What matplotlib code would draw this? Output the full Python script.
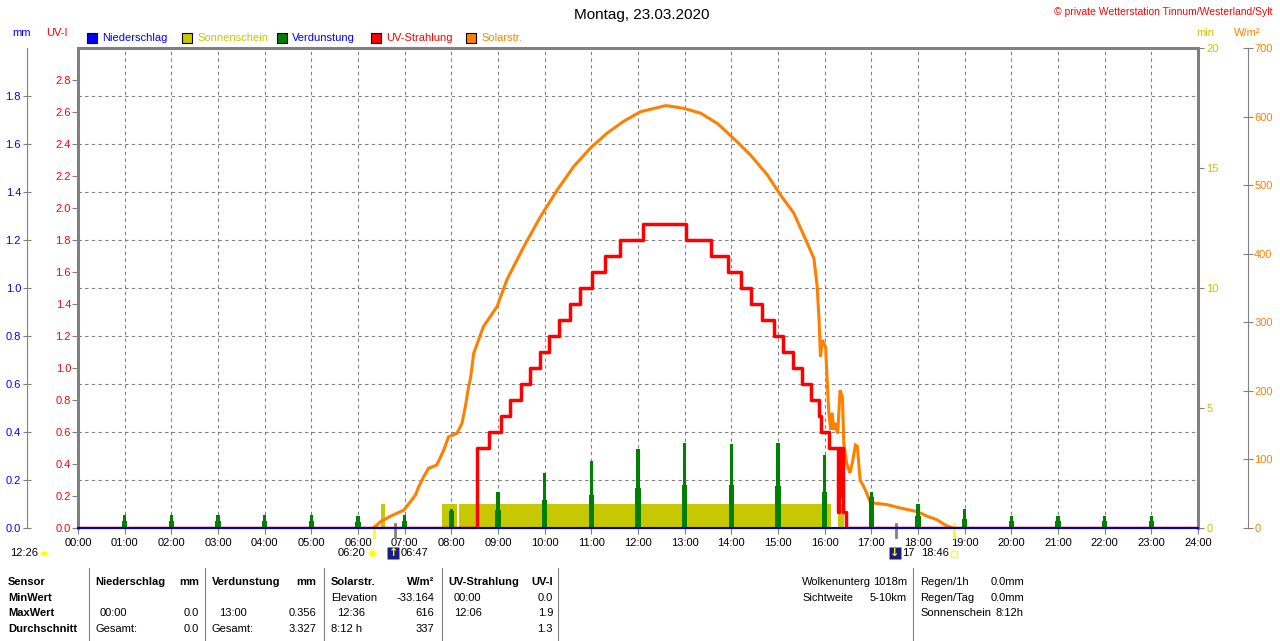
import numpy as np
import matplotlib.pyplot as plt
from matplotlib.patches import Rectangle
from matplotlib.lines import Line2D

plt.rcParams['font.family'] = ['Liberation Sans', 'DejaVu Sans']
plt.rcParams['font.size'] = 8

# Solarstrahlung (W/m²) - Zeit in Stunden
solar_t = [6.33, 6.37, 6.48, 6.69, 6.98, 7.12, 7.23, 7.30, 7.41, 7.51,
           7.69, 7.84, 7.94, 8.12, 8.23, 8.30, 8.37, 8.41, 8.48, 8.69,
           8.98, 9.19, 9.55, 9.91, 10.27, 10.62, 10.98, 11.34, 11.69, 12.05,
           12.41, 12.60, 12.70, 12.98, 13.34, 13.70, 14.05, 14.41, 14.77, 15.05,
           15.34, 15.63, 15.77, 15.84, 15.88, 15.91, 15.95, 16.02, 16.05, 16.09,
           16.13, 16.16, 16.20, 16.23, 16.28, 16.33, 16.38, 16.41, 16.47, 16.54,
           16.59, 16.66, 16.70, 16.76, 16.84, 16.90, 16.98, 17.34, 17.63, 17.98,
           18.20, 18.41, 18.59, 18.66, 18.74]
solar_v = [0, 2, 9, 17, 26, 38, 48, 60, 75, 87,
           92, 114, 133, 138, 153, 177, 206, 218, 255, 294,
           323, 362, 410, 454, 493, 527, 554, 576, 593, 607,
           613, 616, 615, 612, 605, 590, 568, 544, 515, 486,
           459, 415, 393, 352, 303, 250, 274, 264, 221, 167,
           143, 168, 143, 153, 138, 201, 191, 123, 95, 80,
           94, 121, 119, 70, 60, 51, 37, 34, 29, 24,
           17, 12, 4, 2, 0]

# UV-Index (Stufen)
uv_t = [0, 8.55, 8.81, 9.06, 9.26, 9.49, 9.69, 9.89, 10.10, 10.31,
        10.54, 10.75, 11.02, 11.30, 11.62, 12.10, 13.03, 13.57, 13.92, 14.20,
        14.43, 14.65, 14.91, 15.11, 15.33, 15.52, 15.70, 15.88, 15.93, 16.09,
        16.28, 16.31, 16.34, 16.37, 16.40, 16.46, 24]
uv_v = [0, 0.5, 0.6, 0.7, 0.8, 0.9, 1.0, 1.1, 1.2, 1.3,
        1.4, 1.5, 1.6, 1.7, 1.8, 1.9, 1.8, 1.7, 1.6, 1.5,
        1.4, 1.3, 1.2, 1.1, 1.0, 0.9, 0.8, 0.7, 0.6, 0.5,
        0.1, 0.5, 0.2, 0.5, 0.1, 0.0, 0.0]

# Verdunstung (mm) pro Stunde
evap_h = list(range(1, 24))
evap_hi = [0.054, 0.054, 0.054, 0.054, 0.054, 0.05, 0.054, 0.078, 0.151, 0.23,
           0.28, 0.329, 0.356, 0.352, 0.355, 0.304, 0.151, 0.10, 0.078, 0.05,
           0.05, 0.05, 0.05]
evap_lo = [0.03, 0.03, 0.03, 0.03, 0.03, 0.026, 0.03, 0.07, 0.075, 0.117,
           0.138, 0.165, 0.18, 0.178, 0.175, 0.15, 0.13, 0.05, 0.037, 0.03,
           0.03, 0.03, 0.03]

# Sonnenschein (min)
sun_start = [6.50, 7.80, 8.16, 16.28]
sun_end = [6.57, 8.12, 16.13, 16.41]
sun_min = [1.0, 1.0, 1.0, 1.0]

# Niederschlag (mm)
rain_t = [0, 24]
rain_v = [0.0, 0.0]

# Sonne / Mond
sunrise, sunset = 6 + 20 / 60, 18 + 46 / 60
moonrise, moonset = 6 + 47 / 60, 17.53

# Farben
GRAY = '#808080'
BLUE = '#0000FF'
RED = '#FF0000'
GREEN = '#008000'
OLIVE = '#C8C800'
ORANGE = '#FF8000'

W, H = 1280, 641


def fx(x):
    return x / W


def fy(y):
    return 1 - y / H


fig = plt.figure(figsize=(12.8, 6.41), dpi=100)
ax_sun = fig.add_axes([fx(78), fy(528), 1120 / W, 480 / H])
ax_w = ax_sun.twinx()
ax_uv = ax_sun.twinx()
ax_mm = ax_sun.twinx()
for i, a in enumerate([ax_sun, ax_w, ax_uv, ax_mm]):
    a.set_zorder(i + 1)
    if i > 0:
        a.patch.set_visible(False)
        for s in a.spines.values():
            s.set_visible(False)

# Raster
ax_sun.set_xlim(0, 24)
ax_sun.set_ylim(0, 20)
for v in range(2, 20, 2):
    ax_sun.axhline(v, color=GRAY, lw=0.8, dashes=(3, 3), zorder=0)
for h in range(1, 24):
    ax_sun.axvline(h, color=GRAY, lw=0.8, dashes=(3, 3), zorder=0)

# Sonnenschein
ax_sun.bar(sun_start, sun_min, width=np.array(sun_end) - np.array(sun_start),
           align='edge', color=OLIVE, linewidth=0, zorder=2)

# Solarstrahlung
ax_w.set_ylim(0, 700)
ax_w.plot(solar_t, solar_v, color=ORANGE, lw=2.2, solid_joinstyle='miter')

# UV
ax_uv.set_ylim(0, 3)
ax_uv.plot(uv_t, uv_v, color=RED, lw=2.5, drawstyle='steps-post')

# Verdunstung + Niederschlag
ax_mm.set_ylim(0, 2)
ax_mm.bar(evap_h, evap_lo, width=0.12, color=GREEN, linewidth=0)
ax_mm.bar(evap_h, evap_hi, width=0.07, color=GREEN, linewidth=0)
ax_mm.plot(rain_t, rain_v, color='#0000C0', lw=1.5, clip_on=False)

# Achsen
ax_sun.set_xticks(range(25))
ax_sun.set_xticklabels([f'{h:02d}:00' for h in range(25)])
ax_sun.tick_params(axis='x', length=4, color=GRAY, pad=3)
ax_sun.yaxis.tick_right()
ax_sun.set_yticks([0, 5, 10, 15, 20])
ax_sun.tick_params(axis='y', labelcolor=OLIVE, color=GRAY, length=4, pad=2)
for side in ['top', 'left', 'right']:
    ax_sun.spines[side].set_color(GRAY)
    ax_sun.spines[side].set_linewidth(2.2)
ax_sun.spines['bottom'].set_color(GRAY)

ax_uv.yaxis.tick_left()
uv_ticks = np.round(np.arange(0, 2.81, 0.2), 1)
ax_uv.set_yticks(uv_ticks)
ax_uv.set_yticklabels([f'{v:.1f}' for v in uv_ticks])
ax_uv.tick_params(axis='y', labelcolor=RED, color=GRAY, length=4, pad=1)

ax_mm.yaxis.tick_left()
mm_ticks = np.round(np.arange(0, 1.81, 0.2), 1)
ax_mm.set_yticks(mm_ticks)
ax_mm.set_yticklabels([f'{v:.1f}' for v in mm_ticks])
ax_mm.spines['left'].set_visible(True)
ax_mm.spines['left'].set_position(('outward', 37))
ax_mm.spines['left'].set_color(GRAY)
ax_mm.tick_params(axis='y', labelcolor=BLUE, color=GRAY, length=6,
                  direction='inout', pad=1)

ax_w.set_yticks(range(0, 701, 100))
ax_w.spines['right'].set_visible(True)
ax_w.spines['right'].set_position(('outward', 36))
ax_w.spines['right'].set_color(GRAY)
ax_w.tick_params(axis='y', labelcolor=ORANGE, color=GRAY, length=7,
                 direction='inout', pad=1)

# Achsentitel
fig.text(fx(22), fy(33), 'mm', color=BLUE, ha='center', va='center')
fig.text(fx(57), fy(33), 'UV-I', color=RED, ha='center', va='center')
fig.text(fx(1205), fy(33), 'min', color=OLIVE, ha='center', va='center')
fig.text(fx(1247), fy(33), 'W/m²', color=ORANGE, ha='center', va='center')

# Titel
fig.text(fx(642), fy(15), 'Montag, 23.03.2020', ha='center', va='center', fontsize=11)
fig.text(fx(1273), fy(12), '© private Wetterstation Tinnum/Westerland/Sylt',
         ha='right', va='center', color=RED, fontsize=7.5)

# Legende
legend_x = [92, 187, 282, 376, 471]
legend_labels = ['Niederschlag', 'Sonnenschein', 'Verdunstung', 'UV-Strahlung', 'Solarstr.']
legend_fc = [BLUE, OLIVE, GREEN, RED, ORANGE]
legend_tc = [BLUE, OLIVE, BLUE, RED, ORANGE]
for x, lab, fc, tc in zip(legend_x, legend_labels, legend_fc, legend_tc):
    fig.add_artist(Rectangle((fx(x - 5), fy(43)), 10 / W, 10 / H, transform=fig.transFigure,
                             facecolor=fc, edgecolor='black', lw=0.8))
    fig.text(fx(x + 10), fy(38), lab, color=tc, ha='left', va='center')

# Sonne / Mond unter der Achse
tr = ax_sun.get_xaxis_transform()
y_ic = -0.052
for t, c in [(sunrise, '#FFFF00'), (moonrise, GRAY), (moonset, GRAY), (sunset, '#FFFF00')]:
    ax_sun.plot([t, t], [0.008, -0.019], transform=tr, color=c, lw=2, clip_on=False)
ax_sun.text(-1.46, y_ic, '12:26', transform=tr, ha='left', va='center')
ax_sun.plot([-0.73], [y_ic - 0.004], transform=tr, marker='o', ms=6, fillstyle='top',
            mfc='#FFFF00', mec='none', markerfacecoloralt='none', clip_on=False)
ax_sun.text(sunrise - 0.17, y_ic, '06:20', transform=tr, ha='right', va='center')
ax_sun.plot([sunrise - 0.03], [y_ic], transform=tr, marker='*', ms=10, color='#FFFF90',
            mec='none', clip_on=False)
ax_sun.plot([sunrise - 0.03], [y_ic], transform=tr, marker='o', ms=4.5, color='#FFFF00',
            mec='none', clip_on=False)
for t, arrow in [(moonrise - 0.03, '↑'), (moonset - 0.03, '↓')]:
    ax_sun.plot([t], [y_ic], transform=tr, marker='s', ms=9, color='#1C1C80', mec='none',
                clip_on=False)
    ax_sun.text(t, y_ic, arrow, transform=tr, ha='center', va='center', color='#FFFF00',
                fontsize=8, fontweight='bold', family='DejaVu Sans')
ax_sun.text(moonrise + 0.12, y_ic, '06:47', transform=tr, ha='left', va='center')
ax_sun.text(moonset + 0.13, y_ic, '17', transform=tr, ha='left', va='center')
ax_sun.text(moonset + 0.53, y_ic, '18:46', transform=tr, ha='left', va='center')
ax_sun.plot([sunset], [y_ic - 0.002], transform=tr, marker='s', ms=5, mfc='none',
            mec='#FFFF00', mew=1, clip_on=False)

# Tabelle unten
for xl in [89, 205, 324, 442, 558, 913]:
    fig.add_artist(Line2D([fx(xl), fx(xl)], [fy(568), fy(641)], color=GRAY, lw=0.8))

rows_y = [582, 598, 613, 629]
bold_left = [(8, rows_y[0], 'Sensor'), (8, rows_y[1], 'MinWert'), (8, rows_y[2], 'MaxWert'),
             (8, rows_y[3], 'Durchschnitt'), (95, rows_y[0], 'Niederschlag'),
             (212, rows_y[0], 'Verdunstung'), (331, rows_y[0], 'Solarstr.'),
             (448, rows_y[0], 'UV-Strahlung')]
for x, y, s in bold_left:
    fig.text(fx(x), fy(y), s, ha='left', va='center', fontweight='bold')
bold_right = [(199, rows_y[0], 'mm'), (316, rows_y[0], 'mm'), (434, rows_y[0], 'W/m²'),
              (553, rows_y[0], 'UV-I')]
for x, y, s in bold_right:
    fig.text(fx(x), fy(y), s, ha='right', va='center', fontweight='bold')

plain_left = [(100, rows_y[2], '00:00'), (95, rows_y[3], 'Gesamt:'),
              (219, rows_y[2], '13:00'), (212, rows_y[3], 'Gesamt:'),
              (331, rows_y[1], 'Elevation'), (337, rows_y[2], '12:36'), (331, rows_y[3], '8:12 h'),
              (454, rows_y[1], '00:00'), (454, rows_y[2], '12:06'),
              (802, rows_y[0], 'Wolkenunterg'), (802, rows_y[1], 'Sichtweite'),
              (920, rows_y[0], 'Regen/1h'), (920, rows_y[1], 'Regen/Tag'),
              (920, rows_y[2], 'Sonnenschein'),
              (991, rows_y[0], '0.0mm'), (991, rows_y[1], '0.0mm'), (995, rows_y[2], '8:12h')]
for x, y, s in plain_left:
    fig.text(fx(x), fy(y), s, ha='left', va='center')
plain_right = [(199, rows_y[2], '0.0'), (199, rows_y[3], '0.0'),
               (316, rows_y[2], '0.356'), (316, rows_y[3], '3.327'),
               (434, rows_y[1], '-33.164'), (434, rows_y[2], '616'), (434, rows_y[3], '337'),
               (553, rows_y[1], '0.0'), (553, rows_y[2], '1.9'), (553, rows_y[3], '1.3'),
               (907, rows_y[0], '1018m'), (907, rows_y[1], '5-10km')]
for x, y, s in plain_right:
    fig.text(fx(x), fy(y), s, ha='right', va='center')

fig.savefig('out.png', dpi=100)
